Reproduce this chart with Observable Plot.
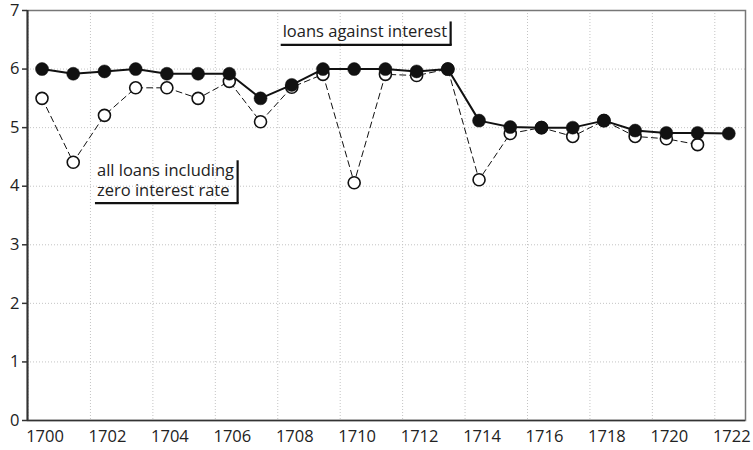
<!DOCTYPE html>
<html>
<head>
<meta charset="utf-8">
<script src="https://cdn.jsdelivr.net/npm/d3@7"></script>
<script src="https://cdn.jsdelivr.net/npm/@observablehq/plot@0.6"></script>
<style>
  html, body { margin: 0; padding: 0; background: #fff; }
  #chart svg { display: block; }
</style>
</head>
<body>
<div id="chart"></div>
<script>
// ---- data ----
const years = [1700, 1701, 1702, 1703, 1704, 1705, 1706, 1707, 1708, 1709, 1710, 1711,
               1712, 1713, 1714, 1715, 1716, 1717, 1718, 1719, 1720, 1721, 1722];
const loansAgainstInterest = [6.0, 5.92, 5.96, 6.0, 5.92, 5.92, 5.92, 5.5, 5.73, 6.0, 6.0, 6.0,
                              5.96, 6.0, 5.12, 5.01, 5.0, 5.0, 5.12, 4.95, 4.91, 4.91, 4.9];
const allLoansInclZero = [5.5, 4.41, 5.21, 5.68, 5.68, 5.5, 5.79, 5.1, 5.69, 5.91, 4.06, 5.91,
                          5.89, 6.0, 4.11, 4.9, 5.0, 4.85, 5.12, 4.85, 4.81, 4.71, null];
const xTicks = [1700, 1702, 1704, 1706, 1708, 1710, 1712, 1714, 1716, 1718, 1720, 1722];
const yTicks = [0, 1, 2, 3, 4, 5, 6, 7];
const annotationLabels = ["loans against interest", "all loans including\nzero interest rate"];
const annotationX = [1707.71, 1701.76];
const annotationY = [6.54, 3.84];

// ---- table ----
const table = years.map((yr, i) => ({
  year: yr,
  interest: loansAgainstInterest[i],
  all: allLoansInclZero[i]
}));
const annotations = annotationLabels.map((label, i) => ({label, x: annotationX[i], y: annotationY[i]}));

const FONT = "'Open Sans', Lato, sans-serif";
const FS = 16.5;
const LH = 1.17;

const chart = Plot.plot({
  width: 753,
  height: 450,
  marginLeft: 27,
  marginRight: 8,
  marginTop: 10,
  marginBottom: 30,
  style: {fontFamily: FONT, fontSize: FS + "px", color: "#222", background: "#fff", overflow: "visible"},
  x: {domain: [1699.535, 1722.535]},
  y: {domain: [0, 7]},
  marks: [
    Plot.gridY(yTicks, {stroke: "#c4c4c4", strokeOpacity: 1, strokeDasharray: "1,2"}),
    Plot.gridX(xTicks, {stroke: "#c4c4c4", strokeOpacity: 1, strokeDasharray: "1,2", dx: -14}),
    Plot.frame({stroke: "#777", strokeWidth: 1.5}),
    Plot.axisY(yTicks, {tickSize: 5, tickPadding: 3, fontSize: FS, label: null, stroke: "#333",
      strokeWidth: 1.5, tickFormat: d => String(d)}),
    Plot.axisX(xTicks, {tickSize: 0, tickPadding: 10, fontSize: FS, label: null, dx: 3, tickFormat: d => String(d)}),
    Plot.ruleX([1699.535], {stroke: "#333", strokeWidth: 2}),
    Plot.ruleY([0], {stroke: "#333", strokeWidth: 1.5}),
    Plot.line(table, {x: "year", y: "all", stroke: "#111", strokeWidth: 1, strokeDasharray: "6,4"}),
    Plot.line(table, {x: "year", y: "interest", stroke: "#111", strokeWidth: 2}),
    Plot.dot(table.filter(d => d.all != null), {x: "year", y: "all", r: 6, fill: "#fff", stroke: "#111", strokeWidth: 1.6}),
    Plot.dot(table, {x: "year", y: "interest", r: 6.5, fill: "#111", stroke: "#111", strokeWidth: 0.5}),
    Plot.text(annotations, {x: "x", y: "y", text: "label", textAnchor: "start", lineAnchor: "bottom",
      lineHeight: LH, fontSize: FS, fill: "#222"})
  ]
});

document.getElementById("chart").append(chart);

// ---- shadow-box lines under/right of annotation labels ----
const svg = d3.select(chart);
const xs = chart.scale("x"), ys = chart.scale("y");
const texts = Array.from(chart.querySelectorAll("text"));
annotations.forEach(a => {
  const lines = a.label.split("\n");
  const el = texts.find(t => t.textContent.startsWith(lines[0]));
  if (!el) return;
  const bb = el.getBBox();
  const x0 = xs.apply(a.x);
  const yb = ys.apply(a.y);
  const right = x0 + bb.x + bb.width + 4;
  const top = yb - (lines.length - 1) * FS * LH - 15.5;
  const bottom = yb + 8;
  const g = svg.append("g").attr("stroke", "#111").attr("stroke-width", 2.2);
  g.append("line").attr("x1", right).attr("x2", right).attr("y1", top).attr("y2", bottom);
  g.append("line").attr("x1", x0 - 1.5).attr("x2", right + 1.1).attr("y1", bottom).attr("y2", bottom);
});
</script>
</body>
</html>
